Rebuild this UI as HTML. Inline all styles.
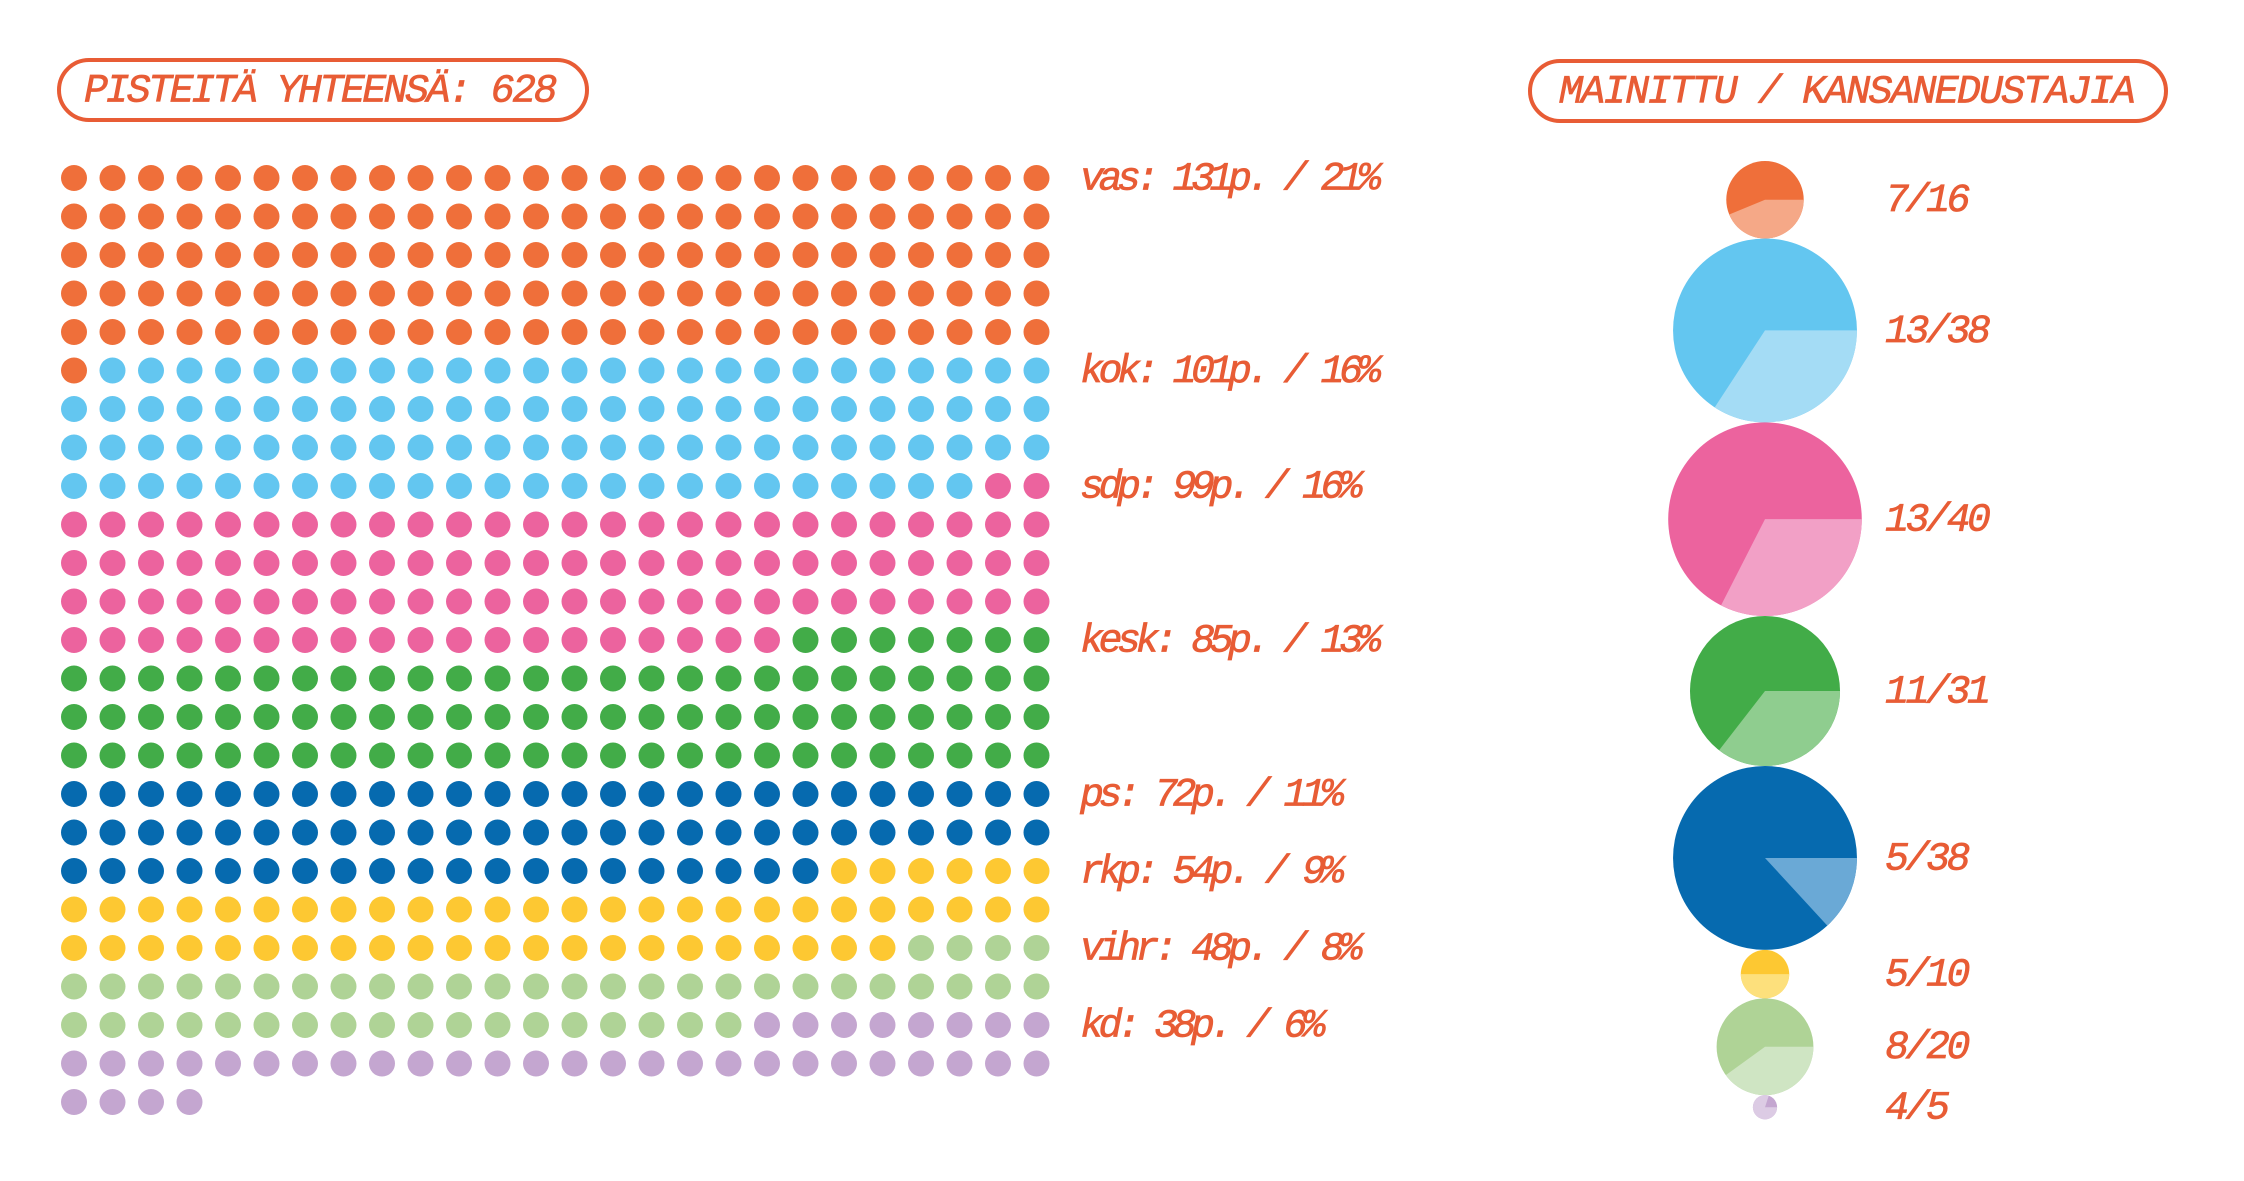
<!DOCTYPE html>
<html><head><meta charset="utf-8">
<style>
html,body{margin:0;padding:0;background:#fff;}
svg{display:block;}
text{font-family:"Liberation Mono",monospace;font-style:italic;fill:#e85c35;stroke:#e85c35;stroke-width:0.7;}
</style></head>
<body>
<svg id="chart" width="2244" height="1181" viewBox="0 0 2244 1181" xmlns="http://www.w3.org/2000/svg">
  <g>
    <rect x="59" y="60" width="528" height="60" rx="30" fill="none" stroke="#e85c35" stroke-width="4"/>
    <text x="84" y="92" font-size="40" letter-spacing="-2.6" dominant-baseline="central">PISTEITÄ YHTEENSÄ: 628</text>
  </g>
  <g>
    <rect x="1530" y="61" width="636" height="60" rx="30" fill="none" stroke="#e85c35" stroke-width="4"/>
    <text x="1559" y="93" font-size="40" letter-spacing="-1.9" dominant-baseline="central">MAINITTU / KANSANEDUSTAJIA</text>
  </g>
  <g id="dots"></g>
  <g id="labels"></g>
  <g id="pies"></g>
</svg>
<script>
const parties = ["vas","kok","sdp","kesk","ps","rkp","vihr","kd"];
const points = [131,101,99,85,72,54,48,38];
const percents = [21,16,16,13,11,9,8,6];
const mentioned = [7,13,13,11,5,5,8,4];
const seats = [16,38,40,31,38,10,20,5];
const darkColors = ["#ef6f3a","#63c6f0","#ec639e","#42ac48","#066aaf","#fdc832","#afd396","#c4a6d0"];
const lightColors = ["#f5a887","#a4dcf5","#f2a0c6","#8fcd8f","#6aa9d6","#fde07c","#cfe5c3","#dccbe4"];

const NS="http://www.w3.org/2000/svg";
const cols=26, x0=74, y0=178, step=38.5, dotR=13;
const colX=c=>x0+c*step, rowY=r=>y0+r*step;
const dotsG=document.getElementById('dots');
const labelsG=document.getElementById('labels');
let idx=0;
parties.forEach((p,i)=>{
  const startRow=Math.floor(idx/cols);
  for(let k=0;k<points[i];k++){
    const c=idx%cols, r=Math.floor(idx/cols);
    const e=document.createElementNS(NS,'circle');
    e.setAttribute('cx',colX(c));e.setAttribute('cy',rowY(r));e.setAttribute('r',dotR);
    e.setAttribute('fill',darkColors[i]);
    
    
    dotsG.appendChild(e);
    idx++;
  }
  const t=document.createElementNS(NS,'text');
  t.setAttribute('x',1080);t.setAttribute('y',rowY(startRow)+2);
  t.setAttribute('font-size','40');t.setAttribute('letter-spacing','-5.5');
  t.setAttribute('dominant-baseline','central');
  t.textContent=p+': '+points[i]+'p. / '+percents[i]+'%';
  
  
  labelsG.appendChild(t);
});

const piesG=document.getElementById('pies');
const pieCx=1765, kScale=2.42;
let yTop=161;
parties.forEach((p,i)=>{
  const R=kScale*seats[i], cy=yTop+R; yTop+=2*R;
  const g=document.createElementNS(NS,'g');
  
  
  const base=document.createElementNS(NS,'circle');
  base.setAttribute('cx',pieCx);base.setAttribute('cy',cy);base.setAttribute('r',R);
  base.setAttribute('fill',darkColors[i]);
  
  
  g.appendChild(base);
  const f=mentioned[i]/seats[i], a=f*2*Math.PI;
  const ex=pieCx+R*Math.cos(a), ey=cy+R*Math.sin(a);
  const path=document.createElementNS(NS,'path');
  path.setAttribute('d','M'+pieCx+','+cy+' L'+(pieCx+R)+','+cy+' A'+R+','+R+' 0 '+(f>0.5?1:0)+' 1 '+ex+','+ey+' Z');
  path.setAttribute('fill',lightColors[i]);
  
  
  g.appendChild(path);
  piesG.appendChild(g);
  const t=document.createElementNS(NS,'text');
  t.setAttribute('x',1885);t.setAttribute('y',cy+2);
  t.setAttribute('font-size','40');t.setAttribute('letter-spacing','-3.5');
  t.setAttribute('dominant-baseline','central');
  t.textContent=mentioned[i]+'/'+seats[i];
  
  
  piesG.appendChild(t);
});
</script>
</body></html>
